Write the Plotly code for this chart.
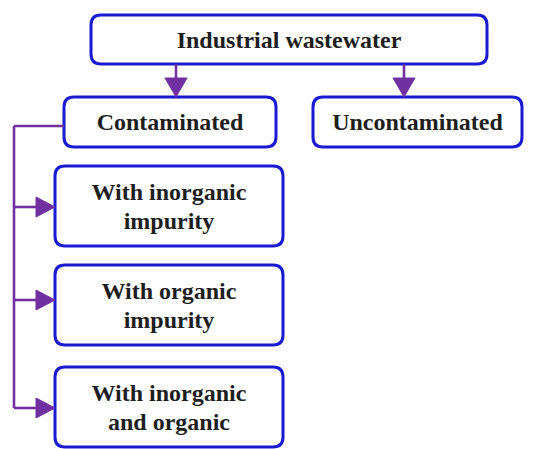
import plotly.graph_objects as go

# --- data: node labels ---
labels = ["Industrial wastewater", "Contaminated", "Uncontaminated",
          "With inorganic\nimpurity", "With organic\nimpurity", "With inorganic\nand organic"]

# --- layout (pixel positions of boxes: x0, y0, x1, y1) ---
boxes = [(91, 15, 487, 64), (64, 97, 276, 147), (313, 97, 522, 147),
         (55, 166, 283, 246), (55, 265, 283, 345), (55, 367, 283, 447)]
line_gap = 29
BLUE = "#1a1ad2"
PURPLE = "#7030a0"
OFF = 8  # page body margin

def rrect(x0, y0, x1, y1, r=10):
    return (f"M {x0+r},{y0} L {x1-r},{y0} Q {x1},{y0} {x1},{y0+r} "
            f"L {x1},{y1-r} Q {x1},{y1} {x1-r},{y1} L {x0+r},{y1} "
            f"Q {x0},{y1} {x0},{y1-r} L {x0},{y0+r} Q {x0},{y0} {x0+r},{y0} Z")

shapes = []
for b in boxes:
    shapes.append(dict(type="path", path=rrect(*b), line=dict(color=BLUE, width=3),
                       fillcolor="white", layer="below"))

def vline(x, y0, y1):
    shapes.append(dict(type="line", x0=x, x1=x, y0=y0, y1=y1, line=dict(color=PURPLE, width=2.6), layer="below"))
def hline(y, x0, x1):
    shapes.append(dict(type="line", x0=x0, x1=x1, y0=y, y1=y, line=dict(color=PURPLE, width=2.6), layer="below"))
def tri_down(x, ytip, h=19, w=11):
    shapes.append(dict(type="path", path=f"M {x-w},{ytip-h} L {x+w},{ytip-h} L {x},{ytip} Z",
                       fillcolor=PURPLE, line=dict(color=PURPLE, width=1), layer="below"))
def tri_right(xtip, y, h=19, w=10):
    shapes.append(dict(type="path", path=f"M {xtip-h},{y-w} L {xtip-h},{y+w} L {xtip},{y} Z",
                       fillcolor=PURPLE, line=dict(color=PURPLE, width=1), layer="below"))

for xc in (176, 404):
    vline(xc, 64, 80)
    tri_down(xc, 97)

hline(126, 14, 64)
vline(14, 126, 408)
for yc in (207, 300, 408):
    hline(yc, 14, 38)
    tri_right(55, yc)

tx, ty, tt = [], [], []
for lab, (x0, y0, x1, y1) in zip(labels, boxes):
    parts = lab.split("\n")
    cy = (y0 + y1) / 2 + 2
    n = len(parts)
    for i, p in enumerate(parts):
        tx.append((x0 + x1) / 2)
        ty.append(cy + (i - (n - 1) / 2) * line_gap)
        tt.append(f"<b>{p}</b>")

fig = go.Figure(go.Scatter(x=tx, y=ty, text=tt, mode="text",
                           textfont=dict(family="Liberation Serif", size=24, color="#1e1e1e"),
                           hoverinfo="skip"))
fig.update_layout(width=535 - OFF, height=449 - OFF, margin=dict(l=0, r=0, t=0, b=0),
                  paper_bgcolor="white", plot_bgcolor="white", showlegend=False,
                  shapes=shapes,
                  xaxis=dict(range=[OFF, 535], visible=False, fixedrange=True),
                  yaxis=dict(range=[449, OFF], visible=False, fixedrange=True))
fig.write_html("out.html")
